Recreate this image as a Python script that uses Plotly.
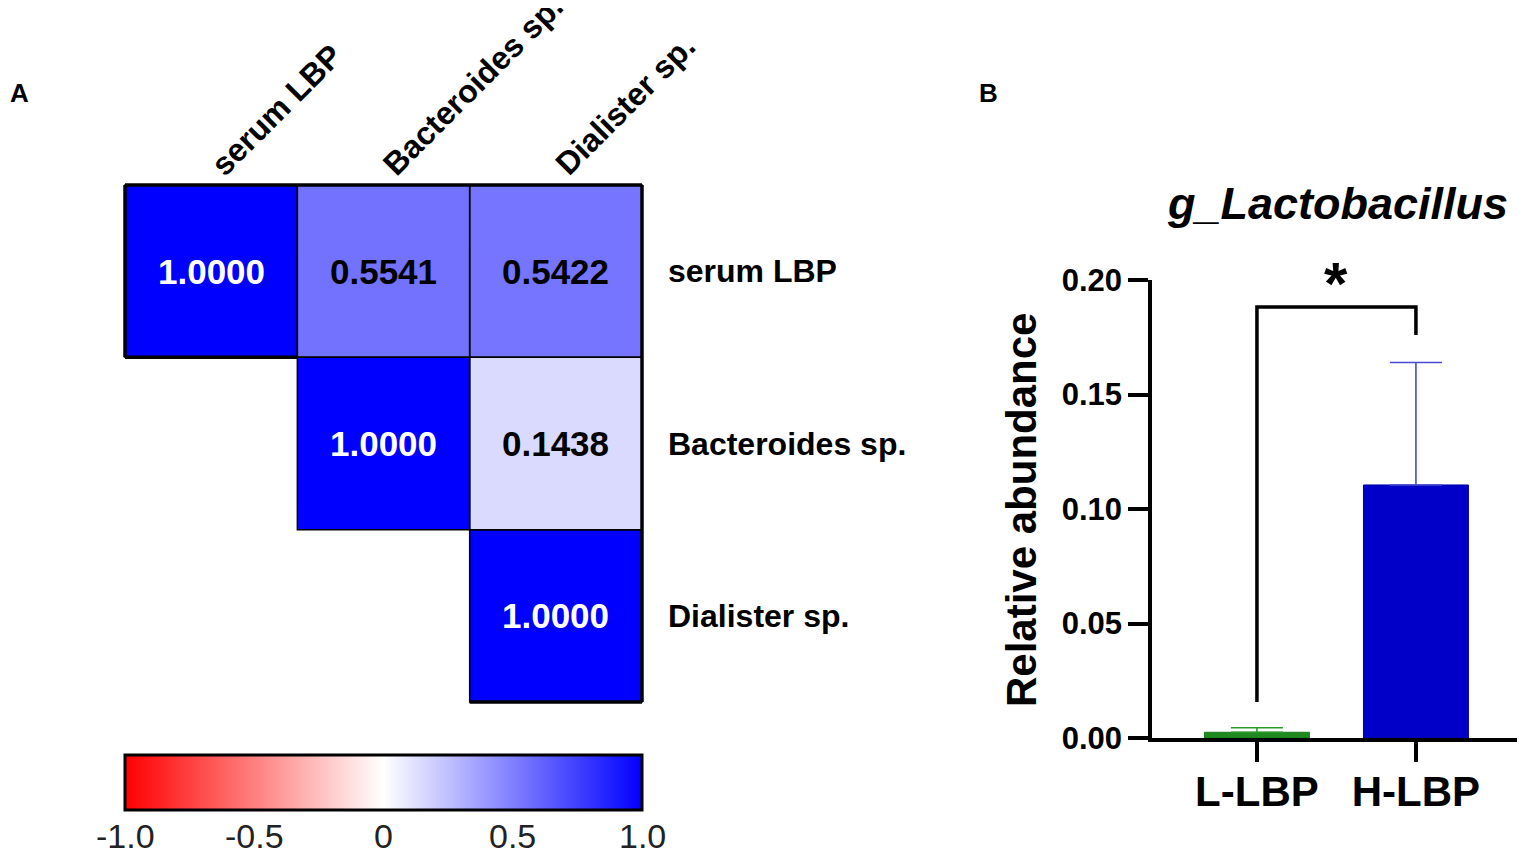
import plotly.graph_objects as go

FONT = "Liberation Sans, Arial, sans-serif"

# panel A: correlation matrix (upper triangle only)
labels = ["serum LBP", "Bacteroides sp.", "Dialister sp."]
corr = [
    [1.0000, 0.5541, 0.5422],
    [None, 1.0000, 0.1438],
    [None, None, 1.0000],
]
cbar_ticks = [-1.0, -0.5, 0, 0.5, 1.0]
cbar_ticktext = ["-1.0", "-0.5", "0", "0.5", "1.0"]

# panel B: relative abundance of g_Lactobacillus
groups = ["L-LBP", "H-LBP"]
means = [0.0025, 0.1105]
sds = [0.0020, 0.0535]
bar_colors = ["#1f8a1f", "#0000c8"]
err_colors = ["#2a9a2a", "#4a4ad0"]
bracket_y = [0.0157, 0.1882, 0.1882, 0.1760]
star_y = 0.19

# page has an 8px body margin, so the figure is drawn 8px in and smaller
OFF = 8
W, H = 1525 - 2 * OFF, 863 - 2 * OFF


def px(x):
    return (x - OFF) / W


def py(y):
    return 1 - (y - OFF) / H


# heatmap geometry (reference pixels)
cell = 517 / 3
hm_left, hm_top = 125, 185
pad = 0.03
cb_top, cb_bot = 755, 810

fig = go.Figure()

fig.add_trace(go.Heatmap(
    z=corr, x=[0, 1, 2], y=[0, 1, 2],
    zmin=-1, zmax=1,
    colorscale=[[0, "#ff0000"], [0.5, "#ffffff"], [1, "#0000ff"]],
    hoverongaps=False,
    xaxis="x", yaxis="y",
    colorbar=dict(
        orientation="h", x=px(hm_left + 517 / 2), xanchor="center",
        y=py(cb_top), yanchor="top",
        len=517, lenmode="pixels", thickness=cb_bot - cb_top, thicknessmode="pixels",
        xpad=0, ypad=0,
        outlinewidth=3, outlinecolor="black",
        tickvals=cbar_ticks, ticks="", showticklabels=False,
    ),
))

shapes = []
annotations = []
n = len(labels)
for i in range(n):
    for j in range(n):
        v = corr[i][j]
        if v is None:
            continue
        shapes.append(dict(type="rect", xref="x", yref="y",
                           x0=j - 0.5, x1=j + 0.5, y0=i - 0.5, y1=i + 0.5,
                           line=dict(color="black", width=1.5)))
        annotations.append(dict(
            x=j, y=i, xref="x", yref="y", text=f"<b>{v:.4f}</b>", showarrow=False,
            font=dict(family=FONT, size=35, color="white" if v > 0.8 else "black"),
        ))

# thick outer border of the triangle
for x0, y0, x1, y1 in [(-0.5, -0.5, 2.5, -0.5), (-0.5, -0.5, -0.5, 0.5),
                       (-0.5, 0.5, 0.5, 0.5), (2.5, -0.5, 2.5, 2.5),
                       (1.5, 2.5, 2.5, 2.5)]:
    shapes.append(dict(type="line", xref="x", yref="y", x0=x0, y0=y0, x1=x1, y1=y1,
                       line=dict(color="black", width=3.5)))

# colorbar: inner tick marks and labels
for v, t in zip(cbar_ticks, cbar_ticktext):
    cx = px(hm_left + (v + 1) / 2 * 517)
    if -1 < v < 1:
        for ya, yb in [(cb_top, cb_top + 9), (cb_bot - 9, cb_bot)]:
            shapes.append(dict(type="line", xref="paper", yref="paper",
                               x0=cx, x1=cx, y0=py(ya), y1=py(yb),
                               line=dict(color="black", width=3)))
    annotations.append(dict(x=cx, y=py(836), xref="paper", yref="paper", text=t,
                            showarrow=False, xanchor="center", yanchor="middle",
                            font=dict(family=FONT, size=34, color="#222")))

for k, lab in enumerate(labels):
    annotations.append(dict(
        x=k, y=-0.5, xref="x", yref="y", text=f"<b>{lab}</b>", showarrow=False,
        textangle=-45, xanchor="left", yanchor="bottom", xshift=-10, yshift=0,
        font=dict(family=FONT, size=32, color="black"),
    ))
    annotations.append(dict(
        x=2.5, y=k, xref="x", yref="y", text=f"<b>{lab}</b>", showarrow=False,
        xanchor="left", xshift=24,
        font=dict(family=FONT, size=32, color="black"),
    ))

# panel B bars
fig.add_trace(go.Bar(
    x=[0, 1], y=means, width=0.66,
    marker=dict(color=bar_colors, line=dict(color=["#1a7a1a", "#0000a8"], width=1)),
    xaxis="x2", yaxis="y2", showlegend=False,
))
for k in range(2):
    fig.add_trace(go.Scatter(
        x=[k], y=[means[k]], mode="markers", marker=dict(size=0.1, color=err_colors[k]),
        error_y=dict(type="data", array=[sds[k]], arrayminus=[0], symmetric=False,
                     color=err_colors[k], thickness=1.6, width=26),
        xaxis="x2", yaxis="y2", showlegend=False, hoverinfo="skip",
    ))
fig.add_trace(go.Scatter(
    x=[0, 0, 1, 1], y=bracket_y, mode="lines",
    line=dict(color="black", width=3.5),
    xaxis="x2", yaxis="y2", showlegend=False, hoverinfo="skip",
))
annotations.append(dict(x=0.5, y=star_y, xref="x2", yref="y2", text="<b>*</b>",
                        showarrow=False, xanchor="center", yanchor="middle", yshift=19,
                        font=dict(family=FONT, size=60, color="black")))
annotations.append(dict(x=px(1337), y=py(203), xref="paper", yref="paper",
                        text="<b><i>g_Lactobacillus</i></b>", showarrow=False,
                        xanchor="center", yanchor="middle",
                        font=dict(family=FONT, size=45, color="black")))
annotations.append(dict(x=px(1022), y=py(510), xref="paper", yref="paper",
                        text="<b>Relative abundance</b>", showarrow=False, textangle=-90,
                        xanchor="center", yanchor="middle",
                        font=dict(family=FONT, size=42, color="black")))

annotations.append(dict(x=0, y=py(93), xref="paper", yref="paper",
                        text="<b>A</b>", showarrow=False, xanchor="left", yanchor="middle",
                        font=dict(family=FONT, size=26, color="black")))
annotations.append(dict(x=px(988), y=py(93), xref="paper", yref="paper",
                        text="<b>B</b>", showarrow=False, xanchor="center", yanchor="middle",
                        font=dict(family=FONT, size=26, color="black")))

fig.update_layout(
    width=W, height=H, margin=dict(l=0, r=0, t=0, b=0, autoexpand=False),
    paper_bgcolor="white", plot_bgcolor="white",
    shapes=shapes, annotations=annotations, showlegend=False,
    xaxis=dict(domain=[px(hm_left - pad * cell), px(hm_left + (3 + pad) * cell)],
               range=[-0.5 - pad, 2.5 + pad], visible=False, automargin=False),
    yaxis=dict(domain=[py(hm_top + (3 + pad) * cell), py(hm_top - pad * cell)],
               range=[2.5 + pad, -0.5 - pad], visible=False, automargin=False),
    xaxis2=dict(
        domain=[px(1152), 1.0], anchor="y2", range=[-0.66, 1.686 - OFF / 159],
        tickvals=[0, 1], ticktext=[f"<b>{g}</b>" for g in groups],
        showline=True, linecolor="black", linewidth=3.5,
        ticks="outside", ticklen=20, tickwidth=3.5, tickcolor="black",
        ticklabelstandoff=-6,
        tickfont=dict(family=FONT, size=42, color="black"),
        showgrid=False, zeroline=False, automargin=False,
    ),
    yaxis2=dict(
        domain=[py(738), py(280)], anchor="x2", range=[0, 0.2],
        tickvals=[0, 0.05, 0.10, 0.15, 0.20],
        ticktext=["<b>0.00</b>", "<b>0.05</b>", "<b>0.10</b>", "<b>0.15</b>", "<b>0.20</b>"],
        showline=True, linecolor="black", linewidth=3.5,
        ticks="outside", ticklen=20, tickwidth=3.5, tickcolor="black",
        tickfont=dict(family=FONT, size=31, color="black"),
        showgrid=False, zeroline=False, automargin=False,
    ),
)

fig.write_html("out.html")
